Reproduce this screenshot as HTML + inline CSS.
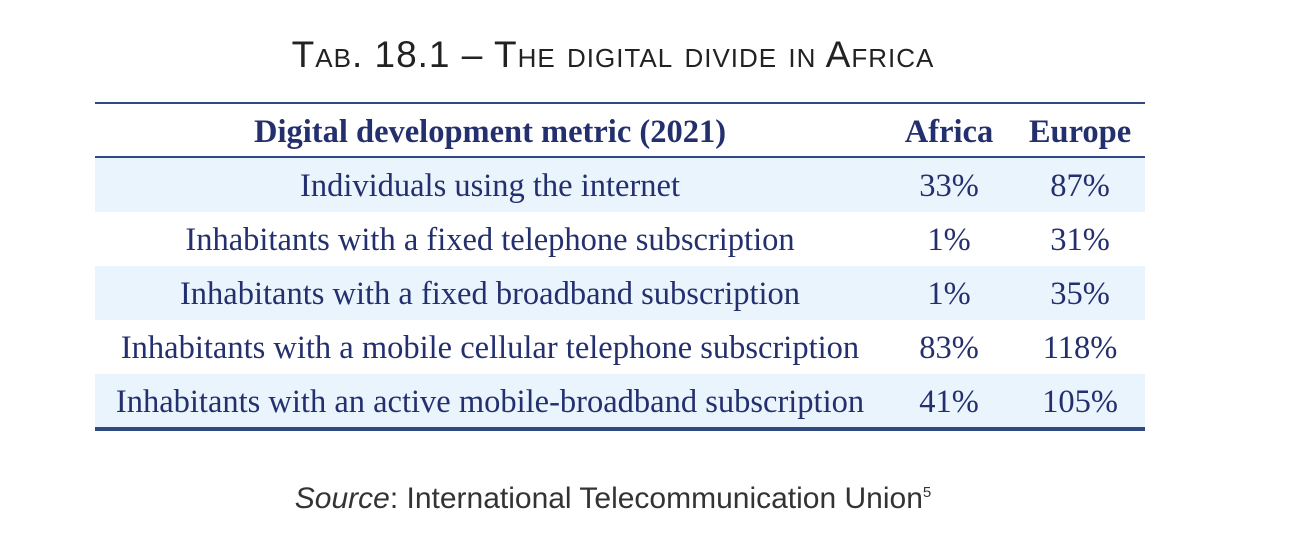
<!DOCTYPE html>
<html><head><style>
body{margin:0;width:1312px;height:552px;background:#fff;position:relative;overflow:hidden;font-family:"Liberation Serif",serif;color:#24306e}
.t{position:absolute;white-space:nowrap;transform:translateX(-50%)}
.title{left:613px;top:34px;font-family:"Liberation Sans",sans-serif;font-size:37px;line-height:42px;font-variant:small-caps;color:#222;font-weight:300;letter-spacing:1px}
.src{left:613px;top:476px;font-family:"Liberation Sans",sans-serif;font-size:30px;line-height:34px;color:#333}
.line{position:absolute;left:95px;width:1050px;background:#2e4a7e}
.row{position:absolute;left:95px;width:1050px;height:54px}
.c{position:absolute;top:0;height:54px;line-height:56px;font-size:32.5px;transform:translateX(-50%);white-space:nowrap}
.h .c{font-weight:bold;}
</style></head><body>
<div class="t title">Tab. 18.1 – The digital divide in Africa</div>
<div class="line" style="top:102px;height:2px"></div>
<div class="row h" style="top:104px"><div class="c" style="left:395px">Digital development metric (2021)</div><div class="c" style="left:854px">Africa</div><div class="c" style="left:985px">Europe</div></div>
<div class="line" style="top:156px;height:2px"></div>
<div class="row" style="top:158px;background:#eaf4fd"><div class="c" style="left:395px">Individuals using the internet</div><div class="c" style="left:854px">33%</div><div class="c" style="left:985px">87%</div></div>
<div class="row" style="top:212px"><div class="c" style="left:395px">Inhabitants with a fixed telephone subscription</div><div class="c" style="left:854px">1%</div><div class="c" style="left:985px">31%</div></div>
<div class="row" style="top:266px;background:#eaf4fd"><div class="c" style="left:395px">Inhabitants with a fixed broadband subscription</div><div class="c" style="left:854px">1%</div><div class="c" style="left:985px">35%</div></div>
<div class="row" style="top:320px"><div class="c" style="left:395px">Inhabitants with a mobile cellular telephone subscription</div><div class="c" style="left:854px">83%</div><div class="c" style="left:985px">118%</div></div>
<div class="row" style="top:374px;background:#eaf4fd"><div class="c" style="left:395px">Inhabitants with an active mobile-broadband subscription</div><div class="c" style="left:854px">41%</div><div class="c" style="left:985px">105%</div></div>
<div class="line" style="top:427px;height:4px"></div>
<div class="t src"><i>Source</i>: International Telecommunication Union<sup style="font-size:15px">5</sup></div>
</body></html>
